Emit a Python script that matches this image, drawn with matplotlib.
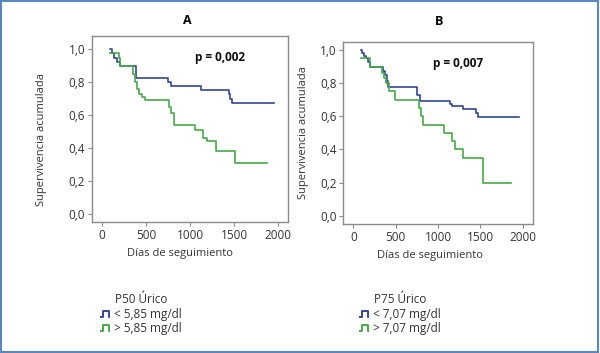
import matplotlib
matplotlib.use("Agg")
import matplotlib.pyplot as plt
from matplotlib.lines import Line2D
from matplotlib.path import Path
from matplotlib.patches import Rectangle

plt.rcParams["font.family"] = ["Open Sans", "DejaVu Sans"]

# Panel A: P50 uric acid
a_low_days = [95, 115, 140, 170, 205, 385, 755, 790, 1130, 1440, 1455, 1470, 1950]
a_low_surv = [1.0, 0.975, 0.95, 0.925, 0.90, 0.826, 0.80, 0.776, 0.752, 0.727, 0.70, 0.675, 0.675]
a_high_days = [95, 200, 205, 210, 355, 375, 400, 425, 455, 490, 760, 785, 815,
               1060, 1150, 1190, 1290, 1515, 1870]
a_high_surv = [0.975, 0.95, 0.925, 0.90, 0.85, 0.80, 0.76, 0.73, 0.71, 0.69, 0.65, 0.61, 0.54,
               0.51, 0.46, 0.44, 0.383, 0.307, 0.307]

# Panel B: P75 uric acid
b_low_days = [90, 105, 125, 145, 170, 200, 355, 375, 395, 415, 756, 787,
              1140, 1165, 1300, 1450, 1476, 1960]
b_low_surv = [1.0, 0.983, 0.966, 0.95, 0.925, 0.90, 0.875, 0.85, 0.815, 0.779, 0.728, 0.694,
              0.675, 0.664, 0.645, 0.62, 0.594, 0.594]
b_high_days = [90, 197, 340, 360, 390, 420, 490, 770, 800, 825, 1071, 1161, 1197, 1299, 1527, 1860]
b_high_surv = [0.95, 0.90, 0.86, 0.83, 0.80, 0.75, 0.70, 0.65, 0.60, 0.55, 0.50, 0.45, 0.40,
               0.35, 0.20, 0.20]

panels = ["A", "B"]
p_values = ["p = 0,002", "p = 0,007"]
legend_titles = ["P50 Úrico", "P75 Úrico"]
legend_labels = [["< 5,85 mg/dl", "> 5,85 mg/dl"], ["< 7,07 mg/dl", "> 7,07 mg/dl"]]
x_ticks = [0, 500, 1000, 1500, 2000]
y_ticks = [0.0, 0.2, 0.4, 0.6, 0.8, 1.0]

BLUE = "#34449a"
GREEN = "#46ac46"
GRAY = "#8a8a8a"
TXT = "#333333"

fig = plt.figure(figsize=(6.0, 3.53), dpi=100)

ax_a = fig.add_axes([0.1538, 0.3711, 0.3257, 0.527])
ax_b = fig.add_axes([0.5722, 0.3654, 0.3167, 0.5164])

curves = [(a_low_days, a_low_surv, a_high_days, a_high_surv),
          (b_low_days, b_low_surv, b_high_days, b_high_surv)]
lims = [((-106, 2106), (-0.05, 1.081)), ((-118, 2125), (-0.05, 1.05))]
ylab_pos = [(-0.259, 0.446), (-0.212, 0.502)]
xlab_pos = [(0.449, -0.167), (0.456, -0.17)]
p_pos = [(0.653, 0.882), (0.604, 0.883)]

for i, ax in enumerate([ax_a, ax_b]):
    lo_d, lo_s, hi_d, hi_s = curves[i]
    ax.step(lo_d, lo_s, where="post", color=BLUE, lw=1.2)
    ax.step(hi_d, hi_s, where="post", color=GREEN, lw=1.2)
    ax.set_xlim(*lims[i][0])
    ax.set_ylim(*lims[i][1])
    ax.set_xticks(x_ticks)
    ax.set_yticks(y_ticks)
    ax.set_yticklabels([f"{v:.1f}".replace(".", ",") for v in y_ticks])
    for s in ax.spines.values():
        s.set_color(GRAY)
        s.set_linewidth(1.0)
    ax.tick_params(colors=GRAY, labelcolor=TXT, labelsize=8.5, length=3, width=0.8, pad=2)
    ax.set_xlabel("Días de seguimiento", fontsize=8, color=TXT, va="center")
    ax.xaxis.set_label_coords(*xlab_pos[i])
    ax.set_ylabel("Supervivencia acumulada", fontsize=8, color=TXT, va="center", ha="center")
    ax.yaxis.set_label_coords(*ylab_pos[i])
    ax.text(*p_pos[i], p_values[i], transform=ax.transAxes, ha="center", va="center",
            fontsize=8.5, fontweight="bold", color="#111111")

fig.text(0.312, 0.943, panels[0], ha="center", va="center", fontsize=9, fontweight="bold")
fig.text(0.732, 0.938, panels[1], ha="center", va="center", fontsize=9, fontweight="bold")

# little step-shaped legend symbol
pulse = Path([(-1.0, -0.6), (-0.5, -0.6), (-0.5, 0.6), (0.5, 0.6), (0.5, -0.6), (0.8, -0.6)],
             [Path.MOVETO] + [Path.LINETO] * 5)

leg_pos = [(0.236, 0.11), (0.667, 0.11)]
for i in range(2):
    handles = [Line2D([], [], ls="none", marker=pulse, markersize=8, mew=1.4,
                      mfc="none", mec=c) for c in (BLUE, GREEN)]
    leg = fig.legend(handles, legend_labels[i], title=legend_titles[i], loc="center",
                     bbox_to_anchor=leg_pos[i], frameon=False, fontsize=8.5,
                     title_fontsize=8.5, handlelength=0.8, handletextpad=0.3,
                     labelspacing=0.1, borderpad=0)
    for t in leg.get_texts():
        t.set_color(TXT)
    leg.get_title().set_color(TXT)

fig.patches.append(Rectangle((0.002, 0.003), 0.995, 0.993, transform=fig.transFigure,
                             fill=False, edgecolor="#5b87c0", lw=1.5))

fig.savefig("out.png", dpi=100)
